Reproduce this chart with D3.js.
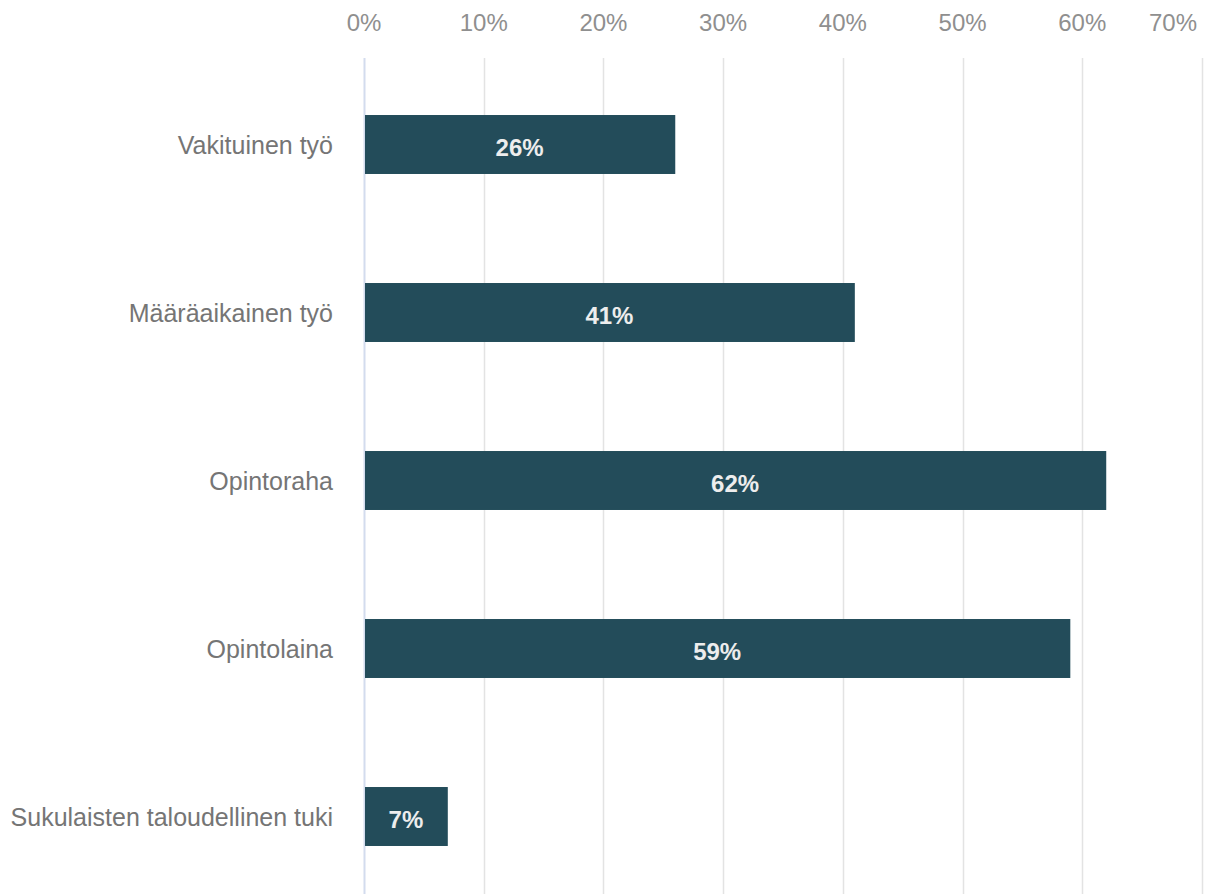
<!DOCTYPE html>
<html>
<head>
<meta charset="utf-8">
<script src="https://cdn.jsdelivr.net/npm/d3@7"></script>
<style>
  body { margin: 0; background: #fff; }
  svg { display: block; font-family: Arial, "Liberation Sans", sans-serif; }
</style>
</head>
<body>
<svg id="chart" width="1211" height="894"></svg>
<script>
var categories = ["Vakituinen työ", "Määräaikainen työ", "Opintoraha", "Opintolaina", "Sukulaisten taloudellinen tuki"];
var shares = [0.26, 0.41, 0.62, 0.59, 0.07];
var tickValues = [0, 0.1, 0.2, 0.3, 0.4, 0.5, 0.6, 0.7];

var svg = d3.select("#chart");
var width = 1211, height = 894;

var x = d3.scaleLinear().domain([0, 0.7]).range([364, 1202]);
var y = d3.scaleBand()
  .domain(categories)
  .range([60.5, 900.5])
  .paddingInner(0.649)
  .paddingOuter(0.3245);

var pct = d3.format(".0%");

// gridlines
svg.append("g").selectAll("line")
  .data(tickValues.slice(1))
  .join("line")
  .attr("x1", function(d) { return Math.round(x(d)) + 0.5; })
  .attr("x2", function(d) { return Math.round(x(d)) + 0.5; })
  .attr("y1", 58)
  .attr("y2", height)
  .attr("stroke", "#e3e3e3")
  .attr("stroke-width", 1.5);

// zero line
svg.append("line")
  .attr("x1", x(0) + 0.5).attr("x2", x(0) + 0.5)
  .attr("y1", 58).attr("y2", height)
  .attr("stroke", "#d3dcee")
  .attr("stroke-width", 2);

// top tick labels; last one pulled in so it fits
svg.append("g").selectAll("text")
  .data(tickValues)
  .join("text")
  .attr("x", function(d, i) { return i === tickValues.length - 1 ? width - 14 : x(d); })
  .attr("y", 31)
  .attr("text-anchor", function(d, i) { return i === tickValues.length - 1 ? "end" : "middle"; })
  .attr("fill", "#8f8f8f")
  .style("font-size", "24px")
  .text(function(d) { return pct(d); });

// bars
svg.append("g").selectAll("rect")
  .data(categories)
  .join("rect")
  .attr("x", x(0) + 1)
  .attr("y", function(d) { return y(d); })
  .attr("width", function(d, i) { return x(shares[i]) - x(0) - 1; })
  .attr("height", y.bandwidth())
  .attr("fill", "#234c5a");

// value labels inside bars
svg.append("g").selectAll("text")
  .data(categories)
  .join("text")
  .attr("x", function(d, i) { return (x(0) + x(shares[i])) / 2; })
  .attr("y", function(d) { return y(d) + y.bandwidth() / 2 + 3; })
  .attr("dy", "0.35em")
  .attr("text-anchor", "middle")
  .attr("fill", "#ededed")
  .style("font-size", "24px")
  .style("font-weight", "bold")
  .text(function(d, i) { return pct(shares[i]); });

// category labels
svg.append("g").selectAll("text")
  .data(categories)
  .join("text")
  .attr("x", 333)
  .attr("y", function(d) { return y(d) + y.bandwidth() / 2 + 1; })
  .attr("dy", "0.35em")
  .attr("text-anchor", "end")
  .attr("fill", "#757575")
  .style("font-size", "25px")
  .text(function(d) { return d; });
</script>
</body>
</html>
